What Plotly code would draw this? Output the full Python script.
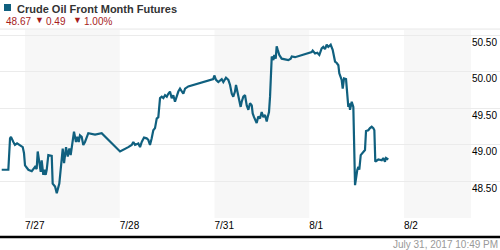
import plotly.graph_objects as go

# Time in trading-day offsets from the start of 7/27 (weekend skipped), price in USD
t = [-0.246, -0.176, -0.158, -0.148, -0.123, -0.106, -0.084, -0.053, -0.024, -0.011,
     0.000, 0.035, 0.071, 0.106, 0.123, 0.134, 0.151, 0.166, 0.176, 0.193,
     0.204, 0.218, 0.229, 0.246, 0.282, 0.292, 0.317, 0.335, 0.362, 0.387,
     0.398, 0.412, 0.433, 0.451, 0.468, 0.482, 0.510, 0.517, 0.538, 0.552,
     0.567, 0.580, 0.598, 0.615, 0.633, 0.668, 0.739, 0.809, 1.003, 1.055,
     1.090, 1.126, 1.143, 1.161, 1.196, 1.214, 1.232, 1.256, 1.284, 1.301,
     1.319, 1.337, 1.354, 1.372, 1.390, 1.407, 1.425, 1.443, 1.460, 1.478,
     1.496, 1.512, 1.530, 1.548, 1.565, 1.583, 1.601, 1.618, 1.636, 1.654,
     1.671, 1.689, 1.723, 1.987, 1.998, 2.016, 2.040, 2.076, 2.093, 2.121,
     2.146, 2.164, 2.182, 2.198, 2.216, 2.227, 2.241, 2.262, 2.276, 2.287,
     2.304, 2.322, 2.340, 2.357, 2.375, 2.393, 2.403, 2.417, 2.435, 2.445,
     2.462, 2.480, 2.498, 2.515, 2.533, 2.551, 2.561, 2.575, 2.586, 2.596,
     2.604, 2.621, 2.631, 2.646, 2.656, 2.667, 2.684, 2.709, 2.779, 2.804,
     2.815, 2.850, 2.937, 3.026, 3.036, 3.061, 3.085, 3.106, 3.131, 3.148,
     3.166, 3.184, 3.201, 3.226, 3.247, 3.272, 3.290, 3.307, 3.317, 3.335,
     3.342, 3.353, 3.367, 3.388, 3.402, 3.412, 3.423, 3.430, 3.448, 3.465,
     3.483, 3.493, 3.507, 3.518, 3.528, 3.543, 3.554, 3.570, 3.588, 3.599,
     3.623, 3.641, 3.659, 3.676, 3.687, 3.697, 3.729, 3.765, 3.782, 3.799,
     3.810, 3.834]
price = [48.66, 48.66, 49.09, 49.11, 49.04, 49.00, 49.02, 49.00, 48.97, 48.89,
         48.72, 48.66, 48.64, 48.70, 48.67, 48.91, 48.75, 48.63, 48.79, 48.59,
         48.66, 48.59, 48.66, 48.86, 48.85, 48.47, 48.43, 48.34, 48.47, 48.75,
         48.95, 48.75, 48.97, 48.84, 48.95, 48.86, 49.11, 49.18, 49.04, 49.11,
         49.04, 49.13, 49.11, 49.00, 49.04, 49.16, 49.14, 49.16, 48.91, 48.94,
         48.97, 49.00, 49.04, 49.00, 49.02, 48.97, 49.04, 49.10, 49.09, 49.07,
         49.00, 49.09, 49.20, 49.23, 49.36, 49.38, 49.64, 49.66, 49.64, 49.68,
         49.66, 49.70, 49.73, 49.64, 49.68, 49.59, 49.68, 49.73, 49.77, 49.73,
         49.70, 49.77, 49.80, 49.90, 49.95, 49.89, 49.86, 49.90, 49.86, 49.92,
         49.89, 49.82, 49.70, 49.66, 49.73, 49.82, 49.73, 49.61, 49.52, 49.59,
         49.66, 49.68, 49.54, 49.48, 49.57, 49.54, 49.43, 49.38, 49.34, 49.30,
         49.39, 49.36, 49.45, 49.38, 49.41, 49.32, 49.38, 49.45, 49.66, 50.02,
         50.21, 50.16, 50.23, 50.18, 50.35, 50.30, 50.23, 50.18, 50.16, 50.18,
         50.21, 50.20, 50.23, 50.27, 50.29, 50.25, 50.26, 50.23, 50.32, 50.34,
         50.31, 50.37, 50.34, 50.37, 50.30, 50.14, 50.12, 50.09, 49.98, 49.93,
         49.89, 49.77, 49.91, 49.90, 49.68, 49.52, 49.57, 49.48, 49.59, 49.52,
         48.45, 48.56, 48.66, 48.70, 48.66, 48.86, 48.88, 48.91, 48.93, 49.19,
         49.20, 49.23, 49.25, 49.23, 49.20, 48.77, 48.80, 48.79, 48.82, 48.77,
         48.82, 48.80]

day_pos = [0, 1, 2, 3, 4]
day_labels = ["7/27", "7/28", "7/31", "8/1", "8/2"]
shaded_days = [0, 2, 4]
y_ticks = [48.0, 48.5, 49.0, 49.5, 50.0, 50.5]
y_labels = ["", "48.50", "49.00", "49.50", "50.00", "50.50"]

title = "Crude Oil Front Month Futures"
last_price = "48.67"
change = "0.49"
change_pct = "1.00%"
stamp = "July 31, 2017 10:49 PM"

LINE = "#10607f"
RED = "#a61c1c"
FONT = "Arial, Liberation Sans, sans-serif"

X_MIN, X_MAX = -0.264, 5.013
BAND_END = 4.707

fig = go.Figure()

shapes = []
for d in shaded_days:
    shapes.append(dict(type="rect", xref="x", yref="paper", x0=d, x1=min(d + 1, BAND_END),
                       y0=0, y1=1, fillcolor="#f7f7f7", line_width=0, layer="below"))
# header separator
shapes.append(dict(type="line", xref="paper", yref="paper", x0=0, x1=1, y0=1.005, y1=1.005,
                   line=dict(color="#e6e6e6", width=1)))
# bottom black rule
shapes.append(dict(type="line", xref="paper", yref="paper", x0=0, x1=1, y0=-0.101, y1=-0.101,
                   line=dict(color="#000000", width=2.5)))
# legend square
shapes.append(dict(type="rect", xref="paper", yref="paper", x0=4/500, x1=11/500,
                   y0=(218-11)/188, y1=(218-4)/188, fillcolor=LINE, line_width=0))

fig.add_trace(go.Scatter(x=t, y=price, mode="lines",
                         line=dict(color=LINE, width=2.2), hoverinfo="skip"))

def head(text, x, y, size, color, bold=False):
    return dict(text=("<b>" + text + "</b>") if bold else text, xref="paper", yref="paper",
                x=x / 500, y=(218 - y) / 188, xanchor="left", yanchor="middle",
                showarrow=False, font=dict(family=FONT, size=size, color=color))

annotations = [
    head(title, 15, 8.5, 11, "#333333", bold=True),
    head(last_price, 4, 21, 10, RED),
    head("▼", 33, 20, 9, RED),
    head(change, 44, 21, 10, RED),
    head("▼", 71, 20, 9, RED),
    head(change_pct, 82, 21, 10, RED),
    dict(text=stamp, xref="paper", yref="paper", x=1.0, y=(218-244)/188,
         xanchor="right", yanchor="middle", showarrow=False,
         font=dict(family=FONT, size=10, color="#999999")),
]

fig.update_layout(
    width=500, height=250,
    margin=dict(l=0, r=0, t=30, b=32),
    paper_bgcolor="white", plot_bgcolor="white",
    showlegend=False,
    shapes=shapes,
    annotations=annotations,
    xaxis=dict(range=[X_MIN, X_MAX], tickmode="array", tickvals=day_pos, ticktext=day_labels,
               ticklabelposition="outside right", showgrid=False, zeroline=False,
               showline=False, ticks="", tickfont=dict(family=FONT, size=10, color="#000000"),
               fixedrange=True),
    yaxis=dict(range=[48.0, 50.572], side="right", tickmode="array", tickvals=y_ticks,
               ticktext=y_labels, ticklabelposition="inside bottom", showgrid=True,
               gridcolor="#ebebeb", gridwidth=1, zeroline=False, showline=False, ticks="",
               tickfont=dict(family=FONT, size=10, color="#000000"), fixedrange=True),
)

fig.write_html("out.html", config={"displayModeBar": False})
